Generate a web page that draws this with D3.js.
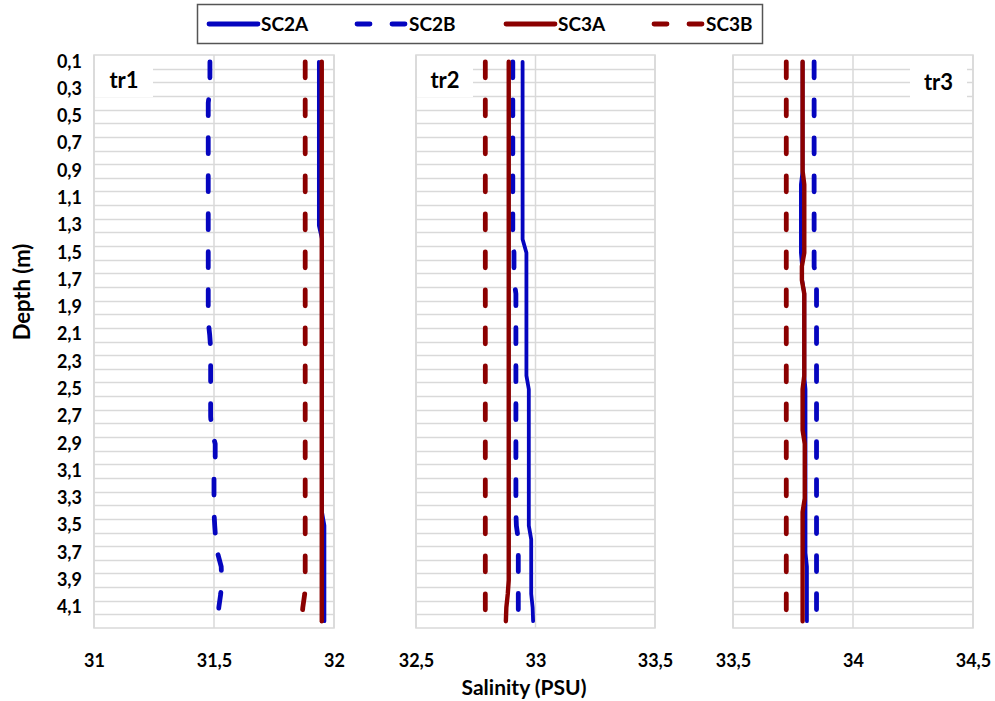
<!DOCTYPE html>
<html><head><meta charset="utf-8">
<script src="https://cdn.jsdelivr.net/npm/d3@7"></script>
<style>body{margin:0;background:#fff}svg{display:block}text{font-family:Lato,"Open Sans",sans-serif;font-weight:bold;fill:#000}</style>
</head><body><svg id="c" width="995" height="701"></svg>
<script>
// ---- data ----
const depths = [0.1,0.2,0.3,0.4,0.5,0.6,0.7,0.8,0.9,1.0,1.1,1.2,1.3,1.4,1.5,1.6,1.7,1.8,1.9,2.0,2.1,2.2,2.3,2.4,2.5,2.6,2.7,2.8,2.9,3.0,3.1,3.2,3.3,3.4,3.5,3.6,3.7,3.8,3.9,4.0,4.1,4.2];
const depthTickLabels = [0.1,0.3,0.5,0.7,0.9,1.1,1.3,1.5,1.7,1.9,2.1,2.3,2.5,2.7,2.9,3.1,3.3,3.5,3.7,3.9,4.1];
const seriesNames = ["SC2A","SC2B","SC3A","SC3B"];
const transects = ["tr1","tr2","tr3"];
const xDomains = [[31,32],[32.5,33.5],[33.5,34.5]];
const xTicks = [[31,31.5,32],[32.5,33,33.5],[33.5,34,34.5]];

const tr1_SC2A = [31.937,31.937,31.937,31.937,31.937,31.937,31.937,31.937,31.937,31.937,31.937,31.937,31.937,31.95,31.95,31.95,31.95,31.95,31.95,31.95,31.95,31.95,31.95,31.95,31.95,31.95,31.95,31.95,31.95,31.95,31.95,31.95,31.95,31.95,31.96,31.96,31.96,31.96,31.96,31.96,31.96,31.96];
const tr1_SC2B = [31.483,31.483,31.483,31.476,31.476,31.476,31.476,31.476,31.476,31.476,31.476,31.476,31.476,31.476,31.476,31.476,31.476,31.476,31.476,31.476,31.482,31.486,31.486,31.486,31.486,31.486,31.486,31.49,31.505,31.505,31.5,31.5,31.5,31.5,31.503,31.507,31.515,31.53,31.532,31.528,31.52,31.518];
const tr1_SC3A = [31.949,31.949,31.949,31.949,31.949,31.949,31.949,31.949,31.949,31.949,31.949,31.949,31.949,31.949,31.949,31.949,31.949,31.949,31.949,31.949,31.949,31.949,31.949,31.949,31.949,31.949,31.949,31.949,31.949,31.949,31.949,31.949,31.949,31.949,31.949,31.949,31.949,31.949,31.949,31.949,31.949,31.949];
const tr1_SC3B = [31.88,31.88,31.88,31.88,31.88,31.88,31.88,31.88,31.88,31.88,31.88,31.88,31.88,31.88,31.88,31.88,31.88,31.88,31.88,31.88,31.88,31.88,31.88,31.88,31.88,31.88,31.88,31.88,31.88,31.88,31.88,31.88,31.88,31.88,31.88,31.88,31.88,31.88,31.88,31.878,31.87,31.865];

const tr2_SC2A = [32.946,32.946,32.946,32.946,32.946,32.946,32.946,32.946,32.946,32.946,32.946,32.946,32.946,32.946,32.962,32.962,32.962,32.962,32.962,32.962,32.962,32.962,32.962,32.962,32.972,32.972,32.972,32.972,32.972,32.972,32.972,32.972,32.972,32.972,32.972,32.982,32.982,32.982,32.982,32.982,32.988,32.99];
const tr2_SC2B = [32.905,32.905,32.905,32.905,32.905,32.905,32.905,32.905,32.905,32.905,32.905,32.905,32.905,32.905,32.91,32.91,32.91,32.918,32.918,32.918,32.918,32.918,32.918,32.918,32.918,32.918,32.918,32.918,32.918,32.918,32.918,32.918,32.918,32.918,32.92,32.928,32.928,32.928,32.928,32.928,32.928,32.928];
const tr2_SC3A = [32.888,32.888,32.888,32.888,32.888,32.888,32.888,32.888,32.888,32.888,32.888,32.888,32.888,32.888,32.888,32.888,32.888,32.888,32.888,32.888,32.888,32.888,32.888,32.888,32.888,32.888,32.888,32.888,32.888,32.888,32.888,32.888,32.888,32.888,32.888,32.888,32.888,32.888,32.888,32.884,32.878,32.876];
const tr2_SC3B = [32.79,32.79,32.79,32.79,32.79,32.79,32.79,32.79,32.79,32.79,32.79,32.79,32.79,32.79,32.79,32.79,32.79,32.79,32.79,32.79,32.79,32.79,32.79,32.79,32.79,32.79,32.79,32.79,32.79,32.79,32.79,32.79,32.79,32.79,32.79,32.79,32.79,32.79,32.79,32.79,32.79,32.79];

const tr3_SC2A = [33.79,33.79,33.79,33.79,33.79,33.79,33.79,33.79,33.79,33.783,33.783,33.783,33.783,33.783,33.783,33.788,33.788,33.797,33.797,33.797,33.797,33.797,33.797,33.797,33.802,33.802,33.802,33.802,33.802,33.802,33.802,33.802,33.802,33.802,33.802,33.802,33.802,33.808,33.808,33.808,33.808,33.808];
const tr3_SC2B = [33.838,33.838,33.838,33.838,33.838,33.838,33.838,33.838,33.838,33.838,33.838,33.838,33.838,33.838,33.838,33.838,33.848,33.848,33.848,33.848,33.848,33.848,33.848,33.848,33.848,33.848,33.848,33.848,33.848,33.848,33.848,33.848,33.848,33.848,33.848,33.848,33.848,33.848,33.848,33.848,33.848,33.848];
const tr3_SC3A = [33.79,33.79,33.79,33.79,33.79,33.79,33.79,33.79,33.79,33.797,33.797,33.797,33.797,33.797,33.797,33.787,33.787,33.797,33.797,33.797,33.797,33.797,33.797,33.797,33.79,33.79,33.79,33.79,33.799,33.799,33.799,33.799,33.799,33.79,33.79,33.79,33.79,33.79,33.79,33.79,33.79,33.79];
const tr3_SC3B = [33.722,33.722,33.722,33.722,33.722,33.722,33.722,33.722,33.722,33.722,33.722,33.722,33.722,33.722,33.722,33.722,33.722,33.722,33.722,33.722,33.722,33.722,33.722,33.722,33.722,33.722,33.722,33.722,33.722,33.722,33.722,33.722,33.722,33.722,33.722,33.722,33.722,33.722,33.722,33.722,33.722,33.722];

const panelData = [
  [tr1_SC2A, tr1_SC2B, tr1_SC3A, tr1_SC3B],
  [tr2_SC2A, tr2_SC2B, tr2_SC3A, tr2_SC3B],
  [tr3_SC2A, tr3_SC2B, tr3_SC3A, tr3_SC3B]
];

// ---- styles ----
const BLUE = "#0505bf", RED = "#8b0000";
const seriesStyle = [
  {color: BLUE, width: 3.8, dash: null},
  {color: BLUE, width: 4.8, dash: "16,22"},
  {color: RED, width: 4.4, dash: null},
  {color: RED, width: 4.8, dash: "16,22"}
];
const panelX = [[94,334],[416,655],[733,973]];
const plotTop = 55, plotBottom = 628;
const labelBoxes = [{x:95,y:63,w:58,h:34},{x:417,y:63,w:56,h:34},{x:910,y:66,w:57,h:32}];
const GRID = "#d9d9d9";
const fmt = v => String(v).replace(".", ",");

const svg = d3.select("#c");
svg.append("rect").attr("width",995).attr("height",701).attr("fill","#fff");

const y = d3.scaleBand().domain(depths).range([plotTop, plotBottom]).padding(0);

panelData.forEach((series, p) => {
  const x = d3.scaleLinear().domain(xDomains[p]).range(panelX[p]);
  const g = svg.append("g");
  g.selectAll("line.h").data(depths.slice(1)).join("line")
    .attr("x1", panelX[p][0]).attr("x2", panelX[p][1])
    .attr("y1", d => Math.round(y(d)) + 0.5).attr("y2", d => Math.round(y(d)) + 0.5)
    .attr("stroke", GRID).attr("stroke-width", 1.5);
  g.selectAll("line.v").data(xTicks[p]).join("line")
    .attr("x1", d => x(d)).attr("x2", d => x(d)).attr("y1", plotTop).attr("y2", plotBottom)
    .attr("stroke", GRID).attr("stroke-width", 1.5);
  g.append("rect").attr("x", panelX[p][0]).attr("y", plotTop)
    .attr("width", panelX[p][1]-panelX[p][0]).attr("height", plotBottom-plotTop)
    .attr("fill","none").attr("stroke", GRID).attr("stroke-width", 1.5);
  const ax = d3.axisBottom(x).tickValues(xTicks[p]).tickFormat(fmt).tickSize(0).tickPadding(0);
  const axg = svg.append("g").attr("transform", `translate(0,${plotBottom})`);
  axg.call(ax);
  axg.select(".domain").remove();
  axg.selectAll("text").attr("y", 39).attr("dy","0").style("font-size","18px").style("font-family","Lato").attr("fill","#000");
  const b = labelBoxes[p];
  g.append("rect").attr("x", b.x).attr("y", b.y).attr("width", b.w).attr("height", b.h).attr("fill","#fff");
  g.append("text").attr("x", b.x + b.w/2).attr("y", b.y + b.h/2 + 8).attr("text-anchor","middle")
    .style("font-size","22px").text(transects[p]);
  const line = d3.line().x(d => x(d[1])).y(d => y(d[0]) + y.bandwidth()/2);
  series.forEach((vals, i) => {
    const st = seriesStyle[i];
    g.append("path").datum(depths.map((d, k) => [d, vals[k]]))
      .attr("d", line).attr("fill","none").attr("stroke", st.color)
      .attr("stroke-width", st.width).attr("stroke-linecap","round").attr("stroke-linejoin","round")
      .attr("stroke-dasharray", st.dash);
  });
});

const yAxis = d3.axisLeft(y).tickValues(depthTickLabels).tickFormat(fmt).tickSize(0).tickPadding(0);
const yg = svg.append("g").attr("transform","translate(82,0)").call(yAxis);
yg.select(".domain").remove();
yg.selectAll("text").style("font-size","18px").style("font-family","Lato").attr("fill","#000");

svg.append("text").attr("transform","translate(30,292) rotate(-90)").attr("text-anchor","middle")
  .style("font-size","22px").text("Depth (m)");
svg.append("text").attr("x",524).attr("y",695).attr("text-anchor","middle")
  .style("font-size","21px").text("Salinity (PSU)");

const lg = svg.append("g");
lg.append("rect").attr("x",197.5).attr("y",4.5).attr("width",565).attr("height",39)
  .attr("fill","#fff").attr("stroke","#555").attr("stroke-width",1.5);
const legendX = [209, 357, 506, 654];
seriesNames.forEach((n, i) => {
  const st = seriesStyle[i];
  const x0 = legendX[i];
  lg.append("line").attr("x1", x0).attr("x2", x0+49).attr("y1",24).attr("y2",24)
    .attr("stroke", st.color).attr("stroke-width", 4.8).attr("stroke-linecap","round")
    .attr("stroke-dasharray", st.dash ? "13,22" : null);
  lg.append("text").attr("x", x0+52).attr("y", 31).style("font-size","19px").text(n);
});
</script></body></html>
